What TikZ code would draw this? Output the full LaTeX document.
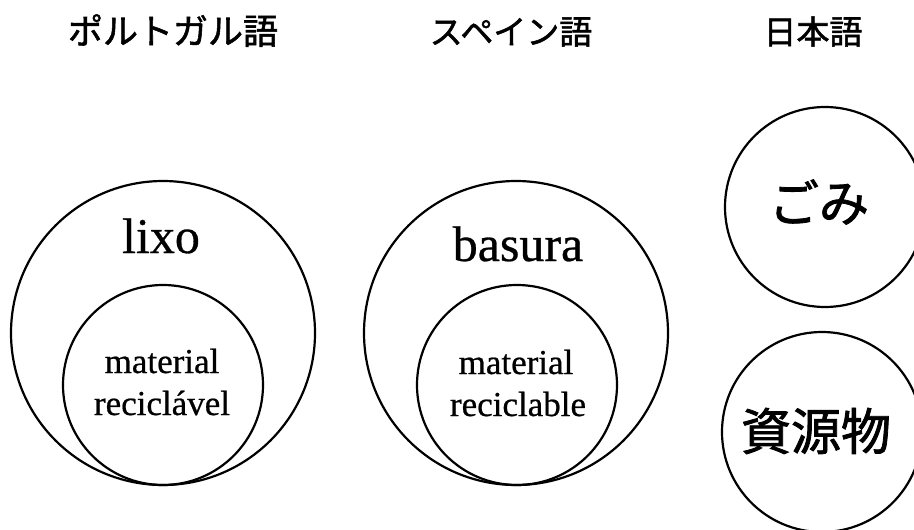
\documentclass[tikz,border=0pt]{standalone}
\usepackage{fontspec}
\setmainfont{Liberation Serif}[FakeBold=0.6]
\newfontfamily\jpfont{Noto Sans CJK JP}[FakeBold=1.6]
\tikzset{
  ring/.style={circle, draw=black, line width=2.2pt, inner sep=0pt},
  title/.style={font=\jpfont\fontsize{33}{36}\selectfont, inner sep=0pt, anchor=base},
  big/.style={font=\fontsize{50}{56}\selectfont, inner sep=0pt, anchor=base},
  small/.style={font=\fontsize{35}{42}\selectfont, inner sep=0pt, anchor=base},
  jbig/.style={font=\jpfont\fontsize{50}{56}\selectfont, inner sep=0pt}
}
\begin{document}
\begin{tikzpicture}[x=1pt, y=-1pt]
\useasboundingbox (0,0) rectangle (914,530);
\clip (0,0) rectangle (914,530);
% titles
\node[title, font=\jpfont\fontsize{35}{38}\selectfont] (tpt) at (173,44) {ポルトガル語};
\node[title] (tes) at (511,44) {スペイン語};
\node[title] (tjp) at (813,44) {日本語};
% Portuguese
\node[ring, minimum size=304pt] (lixoC) at (163,333) {};
\node[ring, minimum size=200pt] (recPT) at (163,385) {};
\node[big] (lixo) at (161,253) {lixo};
\node[small] (mat1) at (162,373) {material};
\node[small] (rec1) at (162,415) {reciclável};
% Spanish
\node[ring, minimum size=304pt] (basC) at (516,333) {};
\node[ring, minimum size=200pt] (recES) at (517,385) {};
\node[big] (bas) at (518,261) {basura};
\node[small] (mat2) at (516,374) {material};
\node[small] (rec2) at (518,416) {reciclable};
% Japanese
\node[ring, minimum size=200pt] (gomiC) at (825,207) {};
\node[ring, minimum size=200pt] (shigenC) at (822,432) {};
\node[jbig] (gomi) at (819,202) {ごみ};
\node[jbig] (shigen) at (816,431) {資源物};
\end{tikzpicture}
\end{document}
